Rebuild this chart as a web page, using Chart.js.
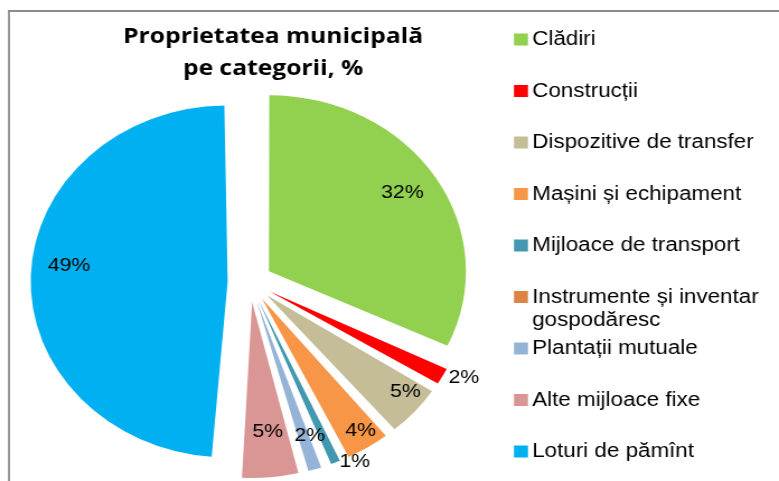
<!DOCTYPE html>
<html>
<head>
<meta charset="utf-8">
<script src="https://cdn.jsdelivr.net/npm/chart.js@4.4.1/dist/chart.umd.min.js"></script>
<style>
  html, body { margin: 0; padding: 0; background: #fff; overflow: hidden; }
</style>
</head>
<body>
<!-- drawn at 696 wide and stretched to 779, the reference picture is stretched the same way -->
<canvas id="pieChart" width="696" height="481" style="width:779px;height:481px"></canvas>
<script>
const titleLines = ['Proprietatea municipală', 'pe categorii, %'];

const categories = [
    'Clădiri',
    'Construcții',
    'Dispozitive de transfer',
    'Mașini și echipament',
    'Mijloace de transport',
    'Instrumente și inventar gospodăresc',
    'Plantații mutuale',
    'Alte mijloace fixe',
    'Loturi de pămînt'
];

const shares = [32, 2, 5, 4, 1.3, 0.15, 1.6, 5, 49];

const sliceColors = [
    '#92D050', '#FF0000', '#C4BD97', '#F79646', '#4198AF',
    '#DD8444', '#95B3D7', '#D99694', '#00B0F0'
];

const SX = 779 / 696;      // horizontal stretch of the page
const pieRadius = 176;
const explode = 80;        // chart.js moves a slice by offset / 4 -> 20px

// where each percentage sits: [fraction of radius, angle nudge in degrees]
const labelSpots = [
    [0.81, -0.8], [1.10, -2.4], [0.89, -3.5], [0.90, -1.3], [1.04, -5],
    null, [0.81, -2.2], [0.74, -0.8], [0.81, 4.4]
];

// chart.js makes thin exploded slices bigger, excel keeps one radius
const sameRadius = {
    id: 'sameRadius',
    afterDatasetUpdate(chart, args) {
        chart.getDatasetMeta(args.index).data.forEach(arc => {
            const fix = 1 - Math.sin(Math.min(Math.PI, arc.circumference || 0));
            arc.outerRadius = pieRadius - explode / 4 * fix;
        });
    }
};

const frameAndTexts = {
    id: 'frameAndTexts',
    beforeDraw(chart) {
        const ctx = chart.ctx;
        ctx.save();
        ctx.fillStyle = '#8c8c8c';
        ctx.fillRect(8 / SX, 10, 696, 2);
        ctx.fillRect(8 / SX, 10, 2 / SX, 481);
        ctx.restore();
    },
    afterDraw(chart) {
        const ctx = chart.ctx;
        ctx.save();

        // title
        ctx.fillStyle = '#000';
        ctx.font = 'bold 22px "Open Sans"';
        ctx.textAlign = 'center';
        ctx.textBaseline = 'alphabetic';
        ctx.fillText(titleLines[0], 244, 43);
        ctx.fillText(titleLines[1], 244, 75);

        // percentages on the slices
        ctx.font = '19px "Liberation Sans"';
        ctx.textBaseline = 'middle';
        chart.getDatasetMeta(0).data.forEach((arc, i) => {
            const spot = labelSpots[i];
            const shown = Math.round(shares[i]);
            if (!spot || shown === 0) return;
            const p = arc.getProps(['x', 'y', 'startAngle', 'endAngle']);
            const mid = (p.startAngle + p.endAngle) / 2;
            const vx = p.x + Math.cos(mid) * explode / 4;
            const vy = p.y + Math.sin(mid) * explode / 4;
            const a = mid + spot[1] * Math.PI / 180;
            const r = pieRadius * spot[0];
            ctx.fillText(shown + '%', vx + Math.cos(a) * r, vy + Math.sin(a) * r);
        });

        // legend
        ctx.font = '20px "Liberation Sans"';
        ctx.textAlign = 'left';
        const boxX = 459.2, textX = 475.5, maxW = 696 - textX - 2;
        categories.forEach((name, i) => {
            const y = 39.5 + 51.5 * i;
            ctx.fillStyle = sliceColors[i];
            ctx.fillRect(boxX, y - 6, 12.5, 12);
            ctx.fillStyle = '#000';
            // wrap long names
            const words = name.split(' ');
            let line = '', lineY = y;
            words.forEach(w => {
                const test = line ? line + ' ' + w : w;
                if (line && ctx.measureText(test).width > maxW) {
                    ctx.fillText(line, textX, lineY);
                    line = w;
                    lineY += 23;
                } else {
                    line = test;
                }
            });
            ctx.fillText(line, textX, lineY);
        });

        ctx.restore();
    }
};

new Chart(document.getElementById('pieChart'), {
    type: 'pie',
    data: {
        labels: categories,
        datasets: [{
            data: shares,
            backgroundColor: sliceColors,
            borderWidth: 0,
            offset: explode,
            radius: pieRadius
        }]
    },
    options: {
        responsive: false,
        animation: false,
        layout: {
            padding: { left: 40, right: 696 - 406.8, top: 100, bottom: 17 }
        },
        plugins: {
            legend: { display: false },
            title: { display: false },
            tooltip: { enabled: false }
        }
    },
    plugins: [sameRadius, frameAndTexts]
});
</script>
</body>
</html>
